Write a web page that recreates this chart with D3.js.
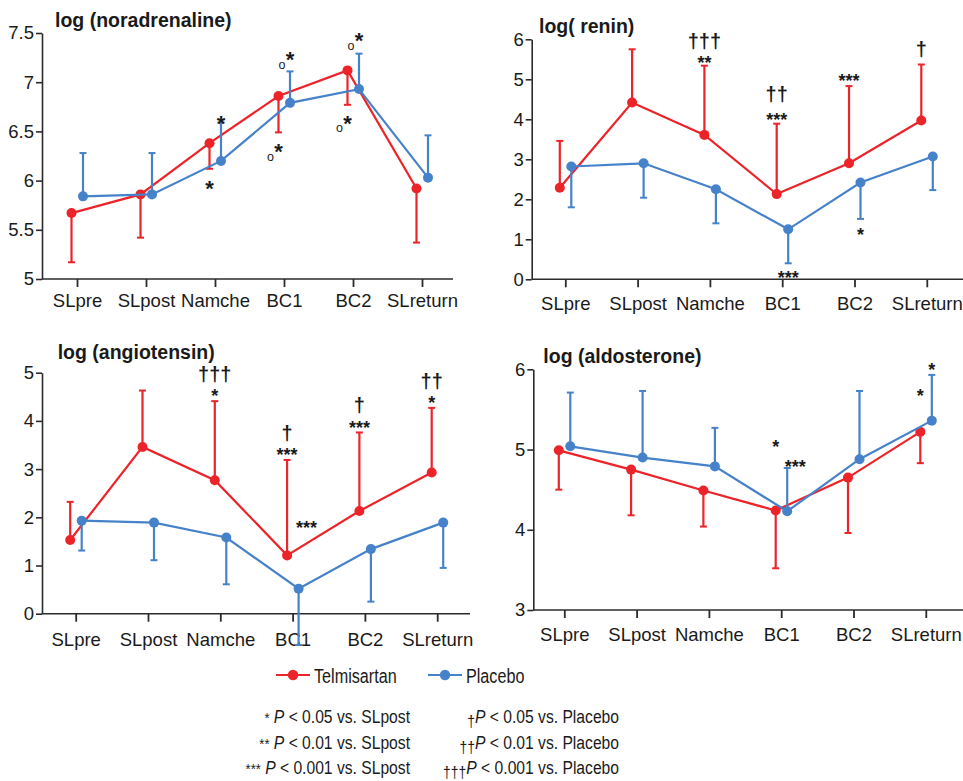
<!DOCTYPE html>
<html>
<head>
<meta charset="utf-8">
<script src="https://cdn.jsdelivr.net/npm/d3@7"></script>
<style>
  body { margin: 0; background: #fff; }
  svg text { font-family: "Liberation Sans", Arial, Helvetica, sans-serif; fill: #1a1a1a; }
</style>
</head>
<body>
<svg id="chart" width="963" height="781"></svg>
<script>
const stages = ['SLpre', 'SLpost', 'Namche', 'BC1', 'BC2', 'SLreturn'];
const seriesNames = ['Telmisartan', 'Placebo'];

// log (noradrenaline)
const norTel = [5.67, 5.86, 6.38, 6.86, 7.12, 5.92];
const norTelErr = [5.17, 5.42, 6.12, 6.49, 6.77, 5.37];
const norPla = [5.84, 5.86, 6.20, 6.79, 6.93, 6.03];
const norPlaErr = [6.28, 6.28, 6.59, 7.11, 7.29, 6.46];
const norTicks = [5, 5.5, 6, 6.5, 7, 7.5];
const norMarks = [
    { stage: 'Namche', v: 6.64, t: '*', side: 'pla' },
    { stage: 'Namche', v: 5.98, t: '*', side: 'tel' },
    { stage: 'BC1', v: 7.29, t: 'o*', side: 'pla' },
    { stage: 'BC1', v: 6.35, t: 'o*', side: 'tel' },
    { stage: 'BC2', v: 7.48, t: 'o*', side: 'pla' },
    { stage: 'BC2', v: 6.64, t: 'o*', side: 'tel' }
];

// log( renin)
const renTel = [2.29, 4.42, 3.61, 2.13, 2.90, 3.97];
const renTelErr = [3.46, 5.75, 5.34, 3.89, 4.83, 5.37];
const renPla = [2.82, 2.90, 2.25, 1.25, 2.42, 3.07];
const renPlaErr = [1.80, 2.04, 1.40, 0.40, 1.51, 2.23];
const renTicks = [0, 1, 2, 3, 4, 5, 6];
const renMarks = [
    { stage: 'Namche', v: 5.94, t: '†††', side: 'tel' },
    { stage: 'Namche', v: 5.53, t: '**', side: 'tel' },
    { stage: 'BC1', v: 4.61, t: '††', side: 'tel' },
    { stage: 'BC1', v: 4.11, t: '***', side: 'tel' },
    { stage: 'BC2', v: 5.08, t: '***', side: 'tel' },
    { stage: 'SLreturn', v: 5.73, t: '†', side: 'tel' },
    { stage: 'BC1', v: 0.15, t: '***', side: 'pla' },
    { stage: 'BC2', v: 1.23, t: '*', side: 'pla' }
];

// log (angiotensin)
const angTel = [1.53, 3.46, 2.77, 1.21, 2.13, 2.93];
const angTelErr = [2.32, 4.63, 4.41, 3.19, 3.76, 4.27];
const angPla = [1.93, 1.89, 1.58, 0.52, 1.34, 1.89];
const angPlaErr = [1.31, 1.11, 0.61, -0.65, 0.25, 0.95];
const angTicks = [0, 1, 2, 3, 4, 5];
const angMarks = [
    { stage: 'Namche', v: 4.94, t: '†††', side: 'tel' },
    { stage: 'Namche', v: 4.61, t: '*', side: 'tel' },
    { stage: 'BC1', v: 3.73, t: '†', side: 'tel' },
    { stage: 'BC1', v: 3.40, t: '***', side: 'tel' },
    { stage: 'BC1', v: 1.87, t: '***', side: 'right' },
    { stage: 'BC2', v: 4.31, t: '†', side: 'tel' },
    { stage: 'BC2', v: 3.95, t: '***', side: 'tel' },
    { stage: 'SLreturn', v: 4.81, t: '††', side: 'tel' },
    { stage: 'SLreturn', v: 4.48, t: '*', side: 'tel' }
];

// log (aldosterone)
const aldTel = [4.99, 4.75, 4.49, 4.24, 4.65, 5.22];
const aldTelErr = [4.50, 4.18, 4.04, 3.52, 3.96, 4.83];
const aldPla = [5.04, 4.90, 4.79, 4.23, 4.88, 5.36];
const aldPlaErr = [5.71, 5.73, 5.27, 4.77, 5.73, 5.93];
const aldTicks = [3, 4, 5, 6];
const aldMarks = [
    { stage: 'BC1', v: 5.09, t: '*', side: 'tel' },
    { stage: 'BC1', v: 4.84, t: '***', side: 'right' },
    { stage: 'SLreturn', v: 5.73, t: '*', side: 'tel' },
    { stage: 'SLreturn', v: 6.05, t: '*', side: 'pla' }
];

const footLeft = [
    ['*', ' P', ' < 0.05 vs. SLpost'],
    ['**', ' P', ' < 0.01 vs. SLpost'],
    ['***', ' P', ' < 0.001 vs. SLpost']
];
const footRight = [
    ['†', 'P', ' < 0.05 vs. Placebo'],
    ['††', 'P', ' < 0.01 vs. Placebo'],
    ['†††', 'P', ' < 0.001 vs. Placebo']
];

const RED = '#ec2329';
const BLUE = '#4682c9';
const AXIS = '#2b2b2b';

const svg = d3.select('#chart');

const panels = [
    { title: 'log (noradrenaline)', tel: norTel, telErr: norTelErr, pla: norPla, plaErr: norPlaErr,
      ticks: norTicks, marks: norMarks, markSize: 22,
      axisX: 42, yTop: 33, yBot: 279, x0: 77, step: 69, axisEnd: 453, titleX: 55, titleY: 27, labelGap: 29 },
    { title: 'log( renin)', tel: renTel, telErr: renTelErr, pla: renPla, plaErr: renPlaErr,
      ticks: renTicks, marks: renMarks, markSize: 18,
      axisX: 531.7, yTop: 39.3, yBot: 279.3, x0: 565.3, step: 72.3, axisEnd: 963, titleX: 539, titleY: 33, labelGap: 32 },
    { title: 'log (angiotensin)', tel: angTel, telErr: angTelErr, pla: angPla, plaErr: angPlaErr,
      ticks: angTicks, marks: angMarks, markSize: 18,
      axisX: 42, yTop: 372.7, yBot: 613.7, x0: 75.7, step: 72.3, axisEnd: 470, titleX: 57.7, titleY: 359, labelGap: 33 },
    { title: 'log (aldosterone)', tel: aldTel, telErr: aldTelErr, pla: aldPla, plaErr: aldPlaErr,
      ticks: aldTicks, marks: aldMarks, markSize: 18,
      axisX: 533.3, yTop: 369.3, yBot: 610, x0: 564.3, step: 72.3, axisEnd: 963, titleX: 543.3, titleY: 363, labelGap: 32 }
];

const sideOffset = { tel: -5.5, pla: 6, right: 14, mid: 0 };

panels.forEach(p => {
    const g = svg.append('g');

    const x = d3.scalePoint().domain(stages).range([p.x0, p.x0 + p.step * (stages.length - 1)]);
    const y = d3.scaleLinear().domain(d3.extent(p.ticks)).range([p.yBot, p.yTop]);

    // title
    g.append('text')
        .attr('x', p.titleX).attr('y', p.titleY)
        .style('font-size', '19.5px').style('font-weight', 'bold')
        .text(p.title);

    // y axis
    const yAxis = g.append('g')
        .attr('transform', `translate(${p.axisX},0)`)
        .call(d3.axisLeft(y).tickValues(p.ticks).tickSize(6).tickSizeOuter(0).tickPadding(2)
            .tickFormat(d3.format('')));
    yAxis.select('.domain').attr('stroke', AXIS).attr('stroke-width', 1.6);
    yAxis.selectAll('.tick line').attr('stroke', AXIS).attr('stroke-width', 1.6);
    yAxis.selectAll('.tick text').style('font-size', '18.5px').attr('fill', '#1a1a1a')
        .style('font-family', '"Liberation Sans", Arial, sans-serif');

    // x axis
    const xAxis = g.append('g')
        .attr('transform', `translate(0,${p.yBot})`)
        .call(d3.axisBottom(x).tickSize(8).tickSizeOuter(0).tickPadding(p.labelGap - 22));
    xAxis.select('.domain').remove();
    xAxis.append('line')
        .attr('x1', p.axisX).attr('x2', p.axisEnd)
        .attr('stroke', AXIS).attr('stroke-width', 1.6);
    xAxis.selectAll('.tick line').attr('stroke', AXIS).attr('stroke-width', 1.8);
    xAxis.selectAll('.tick text').style('font-size', '18.5px').attr('fill', '#1a1a1a')
        .style('font-family', '"Liberation Sans", Arial, sans-serif');

    const series = [
        { vals: p.tel, err: p.telErr, color: RED, dx: sideOffset.tel },
        { vals: p.pla, err: p.plaErr, color: BLUE, dx: sideOffset.pla }
    ];

    const line = d3.line()
        .x((d, i) => x(stages[i]))
        .y(d => y(d));

    series.forEach(s => {
        const sg = g.append('g').attr('transform', `translate(${s.dx},0)`);
        sg.append('path')
            .datum(s.vals)
            .attr('d', line)
            .attr('fill', 'none')
            .attr('stroke', s.color)
            .attr('stroke-width', 2.2);

        // error bars (one-sided)
        sg.selectAll('line.err')
            .data(s.vals)
            .join('line')
            .attr('class', 'err')
            .attr('x1', (d, i) => x(stages[i]))
            .attr('x2', (d, i) => x(stages[i]))
            .attr('y1', d => y(d))
            .attr('y2', (d, i) => y(s.err[i]))
            .attr('stroke', s.color)
            .attr('stroke-width', 2.2);
        sg.selectAll('line.cap')
            .data(s.err)
            .join('line')
            .attr('class', 'cap')
            .attr('x1', (d, i) => x(stages[i]) - 3.5)
            .attr('x2', (d, i) => x(stages[i]) + 3.5)
            .attr('y1', d => y(d))
            .attr('y2', d => y(d))
            .attr('stroke', s.color)
            .attr('stroke-width', 2);

        sg.selectAll('circle')
            .data(s.vals)
            .join('circle')
            .attr('cx', (d, i) => x(stages[i]))
            .attr('cy', d => y(d))
            .attr('r', 5)
            .attr('fill', s.color);
    });

    // significance marks
    p.marks.forEach(m => {
        const mx = x(m.stage) + sideOffset[m.side];
        const my = y(m.v);
        const isDagger = m.t.includes('†');
        const txt = m.t.replace('o', '');
        g.append('text')
            .attr('x', mx).attr('y', my)
            .attr('dy', isDagger ? '0.29em' : '0.6em')
            .attr('text-anchor', 'middle')
            .style('font-size', (isDagger ? 20 : p.markSize) + 'px')
            .style('font-weight', 'bold')
            .text(txt);
        if (m.t.startsWith('o')) {
            g.append('text')
                .attr('x', mx - 8).attr('y', my + 11.5)
                .attr('dy', '0.27em')
                .attr('text-anchor', 'middle')
                .style('font-size', '12.5px')
                .text('o');
        }
    });
});

// legend (condensed lettering, done with a horizontal squeeze)
const legend = svg.append('g');
const legendItems = [
    { name: seriesNames[0], color: RED, x: 276 },
    { name: seriesNames[1], color: BLUE, x: 428 }
];
legendItems.forEach(it => {
    legend.append('line')
        .attr('x1', it.x).attr('x2', it.x + 34)
        .attr('y1', 675).attr('y2', 675)
        .attr('stroke', it.color).attr('stroke-width', 2.2);
    legend.append('circle')
        .attr('cx', it.x + 17).attr('cy', 675).attr('r', 5.2)
        .attr('fill', it.color);
    legend.append('text')
        .attr('transform', `translate(${it.x + 38},683) scale(0.77,1)`)
        .style('font-size', '21px')
        .text(it.name);
});

// footnotes
const footY = [723, 749, 774];
const notes = svg.append('g');
footLeft.forEach((f, i) => {
    const t = notes.append('text')
        .attr('transform', `translate(410,${footY[i]}) scale(0.87,1)`)
        .attr('text-anchor', 'end')
        .style('font-size', '18px');
    t.append('tspan').style('font-size', '15px').text(f[0]);
    t.append('tspan').style('font-style', 'italic').text(f[1]);
    t.append('tspan').text(f[2]);
});
footRight.forEach((f, i) => {
    const t = notes.append('text')
        .attr('transform', `translate(619,${footY[i]}) scale(0.87,1)`)
        .attr('text-anchor', 'end')
        .style('font-size', '18px');
    t.append('tspan').style('font-size', '16px').attr('dy', 4).text(f[0]);
    t.append('tspan').style('font-style', 'italic').attr('dy', -4).text(f[1]);
    t.append('tspan').text(f[2]);
});
</script>
</body>
</html>
